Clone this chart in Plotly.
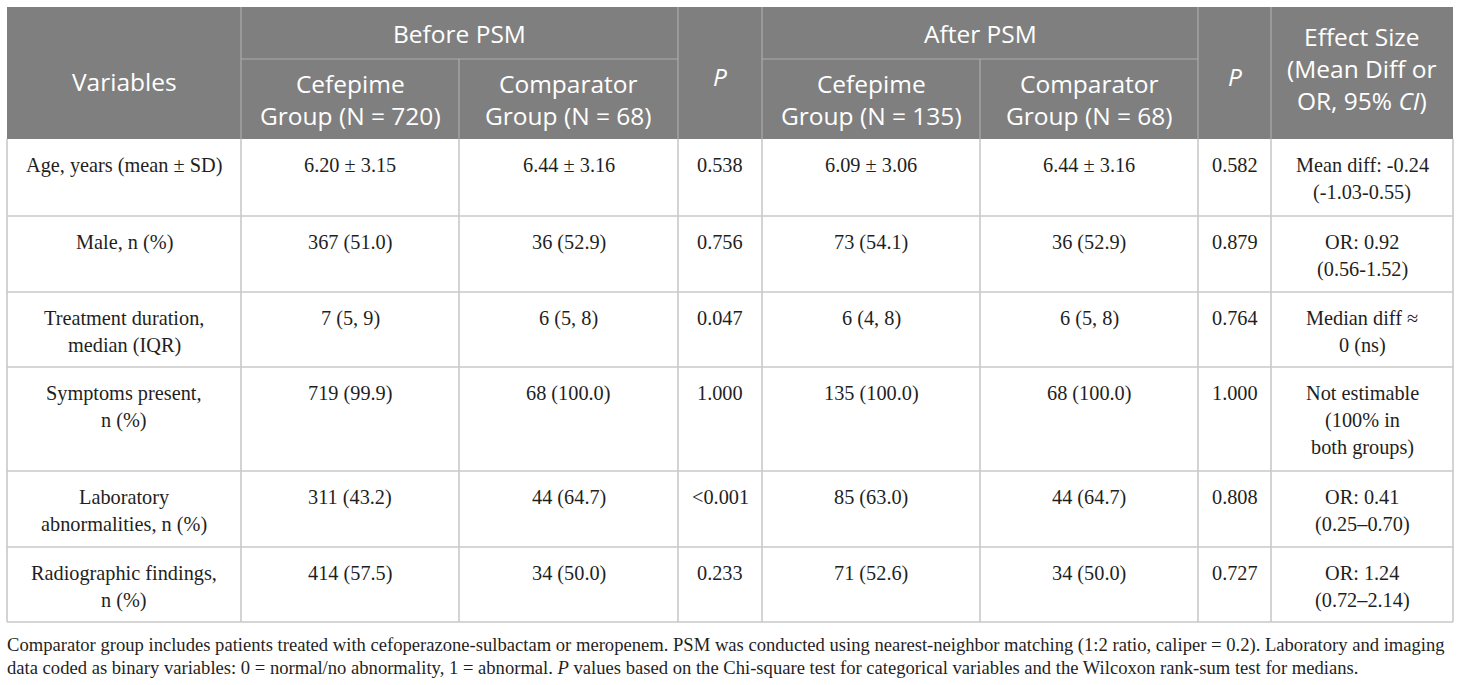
import plotly.graph_objects as go

# ---------------- data ----------------
variables = [
    "Age, years (mean ± SD)",
    "Male, n (%)",
    "Treatment duration,\nmedian (IQR)",
    "Symptoms present,\nn (%)",
    "Laboratory\nabnormalities, n (%)",
    "Radiographic findings,\nn (%)",
]
before_cefepime = ["6.20 ± 3.15", "367 (51.0)", "7 (5, 9)", "719 (99.9)", "311 (43.2)", "414 (57.5)"]
before_comparator = ["6.44 ± 3.16", "36 (52.9)", "6 (5, 8)", "68 (100.0)", "44 (64.7)", "34 (50.0)"]
p_before = ["0.538", "0.756", "0.047", "1.000", "<0.001", "0.233"]
after_cefepime = ["6.09 ± 3.06", "73 (54.1)", "6 (4, 8)", "135 (100.0)", "85 (63.0)", "71 (52.6)"]
after_comparator = ["6.44 ± 3.16", "36 (52.9)", "6 (5, 8)", "68 (100.0)", "44 (64.7)", "34 (50.0)"]
p_after = ["0.582", "0.879", "0.764", "1.000", "0.808", "0.727"]
effect_size = [
    "Mean diff: -0.24\n(-1.03-0.55)",
    "OR: 0.92\n(0.56-1.52)",
    "Median diff ≈\n0 (ns)",
    "Not estimable\n(100% in\nboth groups)",
    "OR: 0.41\n(0.25–0.70)",
    "OR: 1.24\n(0.72–2.14)",
]
group_headers = ["Before PSM", "After PSM"]
sub_headers = [
    "Cefepime<br>Group (N = 720)", "Comparator<br>Group (N = 68)",
    "Cefepime<br>Group (N = 135)", "Comparator<br>Group (N = 68)",
]
var_header = "Variables"
p_header = "<i>P</i>"
effect_header = "Effect Size<br>(Mean Diff or<br>OR, 95% <i>CI</i>)"
footnote = [
    "Comparator group includes patients treated with cefoperazone-sulbactam or meropenem. PSM was conducted using nearest-neighbor matching (1:2 ratio, caliper = 0.2). Laboratory and imaging",
    "data coded as binary variables: 0 = normal/no abnormality, 1 = abnormal. <i>P</i> values based on the Chi-square test for categorical variables and the Wilcoxon rank-sum test for medians.",
]

# ---------------- layout geometry ----------------
W, H = 1460, 685
col_edges = [7, 241, 459, 678, 762, 980, 1198, 1271, 1453]
head_edges = [7, 59, 139]
row_edges = [139, 216, 292, 367, 471, 547, 622]
first_line_offset = 26
line_gap = 27
foot_y = [645, 667]

HEAD_FILL = "#7f7f7f"
HEAD_LINE = "#acacac"
GRID = "#c9c9c9"
TEXT = "#1f1f1f"
HEAD_FONT = dict(family="Open Sans", size=24.5, color="white")
BODY_FONT = dict(family="Liberation Serif", size=20.3, color=TEXT)
FOOT_FONT = dict(family="Liberation Serif", size=18.6, color=TEXT)

fig = go.Figure()
shapes = []
annotations = []


def add_text(x, y, text, font, xanchor="center"):
    annotations.append(dict(x=x, y=y, xref="x", yref="y", text=text, showarrow=False,
                            xanchor=xanchor, yanchor="middle", font=font,
                            align="left" if xanchor == "left" else "center"))


def line(x0, y0, x1, y1, color, width):
    shapes.append(dict(type="line", xref="x", yref="y", x0=x0, y0=y0, x1=x1, y1=y1,
                       line=dict(color=color, width=width)))


def cx(c):
    return (col_edges[c] + col_edges[c + 1]) / 2


# header background
shapes.append(dict(type="rect", xref="x", yref="y", x0=col_edges[0], x1=col_edges[-1],
                   y0=head_edges[0], y1=head_edges[2], fillcolor=HEAD_FILL, line_width=0, layer="below"))

# header inner lines
for c in [1, 3, 4, 6, 7]:
    line(col_edges[c], head_edges[0], col_edges[c], head_edges[2], HEAD_LINE, 1.2)
for c in [2, 5]:
    line(col_edges[c], head_edges[1], col_edges[c], head_edges[2], HEAD_LINE, 1.2)
for a, b in [(1, 3), (4, 6)]:
    line(col_edges[a], head_edges[1], col_edges[b], head_edges[1], HEAD_LINE, 1.2)

# body grid
for y in row_edges[1:]:
    line(col_edges[0], y, col_edges[-1], y, GRID, 1.6)
for x in col_edges:
    line(x, row_edges[0], x, row_edges[-1], GRID, 1.6)

# header text
add_text(cx(0), 81, var_header, HEAD_FONT)
add_text((col_edges[1] + col_edges[3]) / 2, (head_edges[0] + head_edges[1]) / 2, group_headers[0], HEAD_FONT)
add_text((col_edges[4] + col_edges[6]) / 2, (head_edges[0] + head_edges[1]) / 2, group_headers[1], HEAD_FONT)
for c, t in zip([1, 2, 4, 5], sub_headers):
    add_text(cx(c), (head_edges[1] + head_edges[2]) / 2, t, HEAD_FONT)
add_text(cx(3), 76, p_header, HEAD_FONT)
add_text(cx(6), 76, p_header, HEAD_FONT)
add_text(cx(7), 68, effect_header, HEAD_FONT)

# body text
columns = [variables, before_cefepime, before_comparator, p_before,
           after_cefepime, after_comparator, p_after, effect_size]
for c, col in enumerate(columns):
    for r, val in enumerate(col):
        for i, part in enumerate(val.split("\n")):
            add_text(cx(c), row_edges[r] + first_line_offset + i * line_gap, part, BODY_FONT)

# footnote
for y, t in zip(foot_y, footnote):
    add_text(col_edges[0] - 2, y, t, FOOT_FONT, xanchor="left")

fig.update_layout(
    width=W, height=H,
    margin=dict(l=0, r=0, t=0, b=0),
    paper_bgcolor="white", plot_bgcolor="white",
    xaxis=dict(range=[0, W], visible=False, fixedrange=True),
    yaxis=dict(range=[H, 0], visible=False, fixedrange=True),
    shapes=shapes, annotations=annotations,
    showlegend=False,
)
fig.write_html("out.html", config={"displayModeBar": False},
               post_script="document.body.style.margin='0';document.body.style.overflow='hidden';")
